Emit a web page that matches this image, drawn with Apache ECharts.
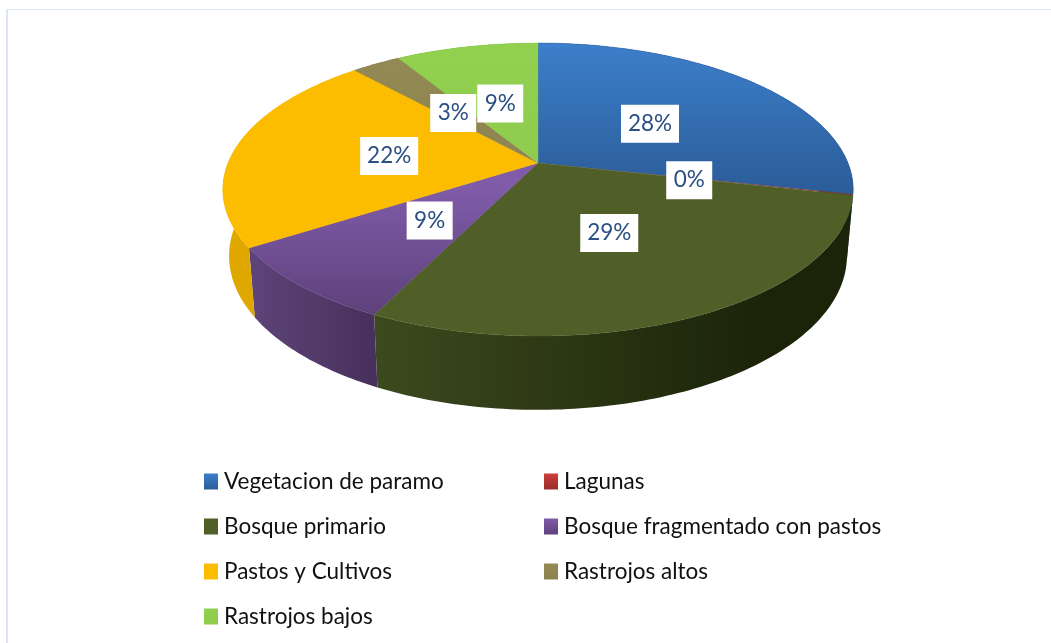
<!DOCTYPE html>
<html>
<head>
<meta charset="utf-8">
<style>html,body{margin:0;padding:0;background:#fff}#chart{width:1051px;height:643px}</style>
<script src="https://cdn.jsdelivr.net/npm/echarts@6/dist/echarts.min.js"></script>
</head>
<body>
<div id="chart"></div>
<script>
const categories = ['Vegetacion de paramo','Lagunas','Bosque primario','Bosque fragmentado con pastos','Pastos y Cultivos','Rastrojos altos','Rastrojos bajos'];
const values = [28.4, 0.1, 28.8, 8.6, 22.4, 3.0, 8.7];
const faceTop = ['#3c7fcb','#cc3f3c','#4f5f27','#7f5ba8','#fcbc00','#948a54','#92d050'];
const faceBottom = ['#2b5c98','#9a2b2a','#4f5f27','#5e417b','#fcbc00','#8c8250','#8ecb4e'];
const wallLeft = ['#1f4a80','#7a2523','#3d4a1e','#5c4378','#dfa800','#756c40','#74a53c'];
const wallRight = ['#1f4a80','#7a2523','#1b2409','#47305c','#dfa800','#756c40','#74a53c'];
const legendLeft = [categories[0],categories[2],categories[4],categories[6]];
const legendRight = [categories[1],categories[3],categories[5]];

const FONT = 'Lato';
const total = values.reduce((a,b)=>a+b,0);
let run = 0;
const spans = values.map(v=>{const s=[run,run+v,v];run+=v;return s;});

// Perspective projection of the unit disc onto the tilted pie's top face
const cx=538, K=310, a=112.2, b=163, c=-0.181;
function project(theta,r){
  const u=r*Math.sin(theta), v=-r*Math.cos(theta), w=1+c*v;
  return [cx+K*u/w,(a*v+b)/w];
}
function lower(p){return [cx+(p[0]-cx)*0.98,1.05*p[1]+57];}
function rim(t0,t1){
  const n=Math.max(2,Math.ceil((t1-t0)/(Math.PI/180)));
  const pts=[];
  for(let i=0;i<=n;i++)pts.push(project(t0+(t1-t0)*i/n,1));
  return pts;
}
function renderer(i){
  return function(params,api){
    const t0=api.value(0)/total*2*Math.PI, t1=api.value(1)/total*2*Math.PI;
    const top=rim(t0,t1);
    const wall=top.concat(top.map(lower).reverse());
    const face=[project(0,0)].concat(top);
    const mid=project((t0+t1)/2,0.49);
    const txt=Math.round(api.value(2))+'%';
    const w=txt.length>2?58:46;
    const my=mid[1]+2;
    return {type:'group',children:[
      {type:'polygon',z2:1,shape:{points:wall},style:{
        fill:{type:'linear',global:true,x:i===2?372:256,y:0,x2:i===2?760:375,y2:0,
          colorStops:[{offset:0,color:wallLeft[i]},{offset:1,color:wallRight[i]}]},
        stroke:null}},
      {type:'polygon',z2:10+i,shape:{points:face},style:{
        fill:{type:'linear',global:true,x:0,y:i===3?190:43,x2:0,y2:i===3?315:193,
          colorStops:[{offset:0,color:faceTop[i]},{offset:1,color:faceBottom[i]}]},
        stroke:i===1?null:faceBottom[i],lineWidth:0.4}},
      {type:'rect',z2:30,shape:{x:mid[0]-w/2,y:my-19,width:w,height:38},style:{fill:'#fff'}},
      {type:'text',z2:31,x:mid[0],y:my,style:{text:txt,fill:'#2a4f82',font:'22.5px '+FONT,align:'center',verticalAlign:'middle'}}
    ]};
  };
}
const series=categories.map((name,i)=>({
  type:'custom',name,coordinateSystem:'none',silent:true,animation:false,
  data:[spans[i]],renderItem:renderer(i),
  itemStyle:{color:{type:'linear',x:0,y:0,x2:0,y2:1,colorStops:[{offset:0,color:faceTop[i]},{offset:1,color:faceBottom[i]}]}}
}));
const legendBase={orient:'vertical',selectedMode:false,icon:'rect',itemWidth:14,itemHeight:16,itemGap:23,
  textStyle:{fontFamily:FONT,fontSize:22.5,color:'#111',lineHeight:22,padding:[0,0,0,1]}};
legendBase.itemGap=22;
const chart=echarts.init(document.getElementById('chart'),null,{renderer:'canvas'});
chart.setOption({
  backgroundColor:'#fff',animation:false,
  legend:[
    Object.assign({},legendBase,{left:199,top:465,padding:5,data:legendLeft}),
    Object.assign({},legendBase,{left:539,top:465,padding:5,data:legendRight})
  ],
  graphic:[
    {type:'rect',shape:{x:6,y:9,width:2,height:634},style:{fill:'#dce6f2'},silent:true},
    {type:'rect',shape:{x:6,y:9,width:1045,height:1},style:{fill:'#dce6f2'},silent:true}
  ],
  series
});
</script>
</body>
</html>
